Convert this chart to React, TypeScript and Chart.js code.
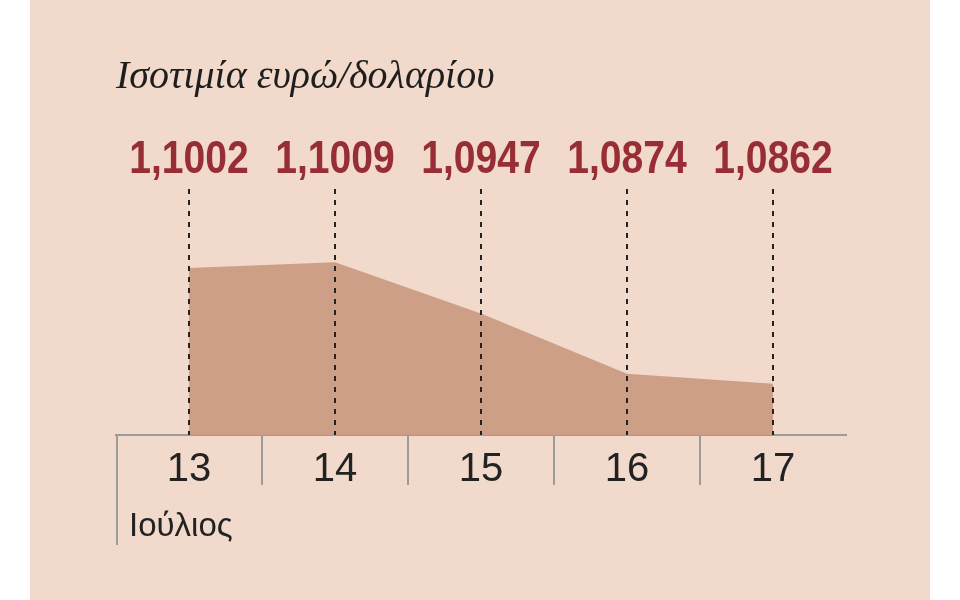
import { useEffect, useRef } from "react";
import { Chart, registerables } from "chart.js";

Chart.register(...registerables);

const days = ["13", "14", "15", "16", "17"];
const rates = [1.1002, 1.1009, 1.0947, 1.0874, 1.0862];
const rateLabels = ["1,1002", "1,1009", "1,0947", "1,0874", "1,0862"];
const chartTitle = "Ισοτιμία ευρώ/δολαρίου";
const monthLabel = "Ιούλιος";

const SANS = "'Liberation Sans', Arimo, sans-serif";
const GREY = "#9b9b9b";

// dashed drop lines, value labels, day separators and the month under the axis
const annotations = {
  id: "annotations",
  afterDatasetsDraw(chart: any) {
    const { ctx, chartArea, scales } = chart;
    const x = scales.x;
    ctx.save();
    ctx.strokeStyle = "#222";
    ctx.lineWidth = 2;
    ctx.setLineDash([5, 6]);
    rates.forEach((_, i) => {
      const px = Math.round(x.getPixelForValue(i));
      ctx.beginPath();
      ctx.moveTo(px, chartArea.top + 2);
      ctx.lineTo(px, chartArea.bottom);
      ctx.stroke();
    });
    ctx.setLineDash([]);

    // condensed look for the big numbers
    ctx.fillStyle = "#982e35";
    ctx.font = `bold 46px ${SANS}`;
    ctx.textAlign = "center";
    ctx.textBaseline = "alphabetic";
    rateLabels.forEach((t, i) => {
      ctx.save();
      ctx.translate(x.getPixelForValue(i), chartArea.top - 14);
      ctx.scale(0.85, 1);
      ctx.fillText(t, 0, 0);
      ctx.restore();
    });

    // separators between days (category boundaries), the first one runs longer
    ctx.strokeStyle = GREY;
    ctx.lineWidth = 2;
    days.forEach((_, i) => {
      const px = Math.round(x.getPixelForValue(i - 0.5)) + (i === 0 ? 1 : 0);
      ctx.beginPath();
      ctx.moveTo(px, x.top);
      ctx.lineTo(px, x.top + (i === 0 ? 110 : 50));
      ctx.stroke();
    });

    ctx.fillStyle = "#222";
    ctx.font = `33px ${SANS}`;
    ctx.textAlign = "left";
    ctx.fillText(monthLabel, x.left + 13, x.top + 101);
    ctx.restore();
  },
};

export default function App() {
  const canvasRef = useRef<HTMLCanvasElement | null>(null);

  useEffect(() => {
    if (!canvasRef.current) return;
    const chart = new Chart(canvasRef.current, {
      type: "line",
      data: {
        labels: days,
        datasets: [
          {
            data: rates,
            fill: "start",
            backgroundColor: "#cd9f86",
            borderWidth: 0,
            pointRadius: 0,
            tension: 0,
          },
        ],
      },
      options: {
        animation: false,
        responsive: false,
        layout: { padding: { left: 86, right: 84, top: 0, bottom: 95 } },
        scales: {
          x: {
            offset: true,
            grid: { display: false, drawTicks: false },
            border: { display: true, color: GREY, width: 2 },
            ticks: { font: { family: SANS, size: 40 }, color: "#222", padding: 11 },
          },
          y: { display: false, min: 1.08, max: 1.11 },
        },
        plugins: {
          legend: { display: false },
          tooltip: { enabled: false },
          title: {
            display: true,
            text: chartTitle,
            align: "start",
            color: "#1e1e1e",
            font: { family: "'Liberation Serif', serif", style: "italic", weight: "normal", size: 40, lineHeight: 1.2 },
            padding: { top: 53, bottom: 86 },
          },
        },
      },
      plugins: [annotations],
    });
    return () => chart.destroy();
  }, []);

  return (
    <div style={{ position: "fixed", left: 0, top: 0, width: 960, height: 600, background: "#fff" }}>
      <div style={{ position: "absolute", left: 30, top: 0, width: 900, height: 600, background: "#f1dacb" }}>
        <canvas ref={canvasRef} width={900} height={600} />
      </div>
    </div>
  );
}
